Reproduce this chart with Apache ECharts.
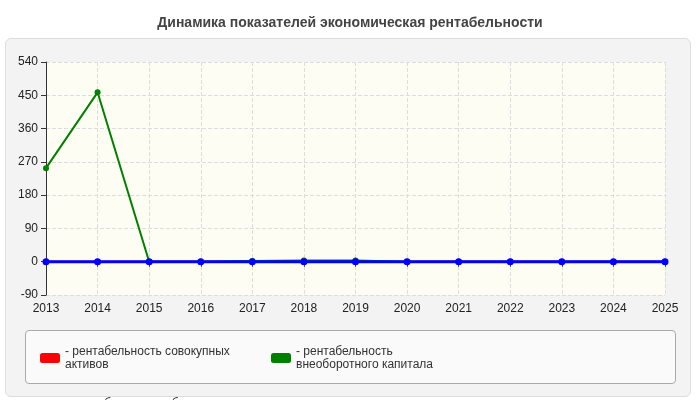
<!DOCTYPE html>
<html><head><meta charset="utf-8">
<script src="https://cdn.jsdelivr.net/npm/echarts@6/dist/echarts.min.js"></script>
<style>body{margin:0;background:#fff}#c{width:700px;height:400px}
#bg{position:absolute;left:5px;top:38px;width:684px;height:357px;background:#f3f3f3;border:1px solid #ddd;border-radius:6px}
#lg{position:absolute;left:25px;top:330px;width:649px;height:52px;background:#fafafa;border:1px solid #aaa;border-radius:4px}
#c{position:absolute;left:0;top:0}</style></head>
<body><div id="bg"></div><div id="lg"></div><div id="c"></div>
<script>
const years=['2013','2014','2015','2016','2017','2018','2019','2020','2021','2022','2023','2024','2025'];
const redVals=[0,0,0,0,0,0,0,0,0,0,0,0,0];
const greenVals=[253,458,0,0,2,3,3,0,0,0,0,0,0];
const blueVals=[0,0,0,0,0,0,0,0,0,0,0,0,0];
const names=['рентабельность совокупных\nактивов','рентабельность\nвнеоборотного капитала','рентабельность оборотного\nкапитала'];
const chart=echarts.init(document.getElementById('c'));
const mk=(n,d,c,w,z)=>({name:n,type:'line',data:d,color:c,z:z,symbol:'circle',symbolSize:w+4,lineStyle:{width:w,color:c},itemStyle:{color:c}});
chart.setOption({
 animation:false,
 title:{text:'Динамика показателей экономическая рентабельности',left:'center',top:11,textStyle:{fontFamily:'Arial',fontSize:14,fontWeight:'bold',color:'#444'}},
 grid:{left:46,right:35,top:62,bottom:105,show:true,backgroundColor:'#fdfdf4',borderWidth:0},
 legend:{top:340,left:35,itemWidth:20,itemHeight:10,itemGap:26,icon:'roundRect',textStyle:{fontFamily:'Arial',fontSize:12,color:'#333',width:180,lineHeight:13},
   formatter:n=>'- '+n},
 xAxis:{type:'category',data:years,boundaryGap:false,axisLine:{lineStyle:{color:'#333'}},axisTick:{show:true,lineStyle:{color:'#333'}},
   axisLabel:{fontFamily:'Arial',fontSize:12,color:'#222'},splitLine:{show:true,lineStyle:{type:'dashed',color:'#ddd'}}},
 yAxis:{type:'value',min:-90,max:540,interval:90,axisLine:{show:true,lineStyle:{color:'#333'}},axisTick:{show:true},
   axisLabel:{fontFamily:'Arial',fontSize:12,color:'#222'},splitLine:{lineStyle:{type:'dashed',color:'#ddd'}}},
 series:[mk(names[0],redVals,'#ff0000',2,2),mk(names[1],greenVals,'#008000',2,3),mk(names[2],blueVals,'#0000ff',3,4)]
});
</script></body></html>
